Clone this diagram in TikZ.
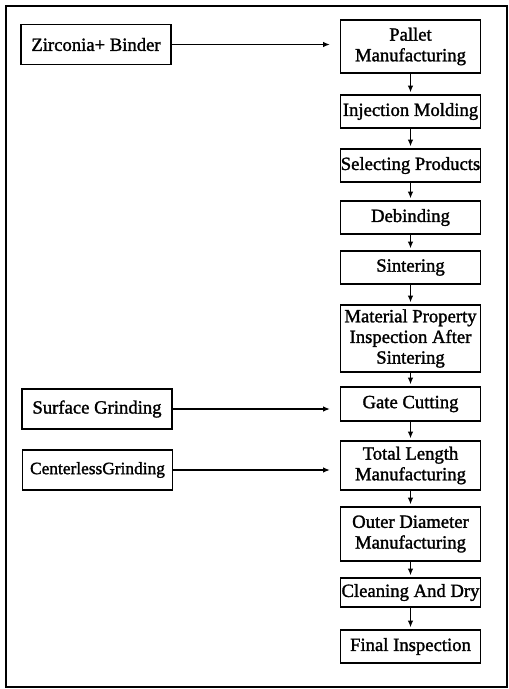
\documentclass[tikz,border=0pt]{standalone}
\usepackage{fontspec}
\setmainfont{Liberation Serif}
\newfontfamily\scanfont[FakeBold=1.5]{Liberation Serif}
\usepackage{tikz}
\usetikzlibrary{arrows.meta}

\begin{document}
\begin{tikzpicture}[x=0.75pt,y=0.75pt,yscale=-1,xscale=1,
  stagebox/.style={draw, line width=0.9pt, minimum width=105pt, inner xsep=0pt, inner ysep=1pt, align=center, font=\scanfont\fontsize{14}{15.5}\selectfont},
  feedbox/.style={stagebox, minimum width=112.5pt, minimum height=29.5pt},
  flowarrow/.style={-{Latex[length=5pt,width=4pt]}, line width=0.9pt}]
\useasboundingbox (0,0) rectangle (509,689);

%Outer Frame
\draw [line width=0.8pt] (6,6) rectangle (507,687);

% Text Node
\node (pm) [stagebox, minimum height=39.75pt] at (410.5,46.5) {Pallet\\Manufacturing};
% Text Node
\node (im) [stagebox, minimum height=24.75pt] at (410.5,111.5) {Injection Molding};
% Text Node
\node (sp) [stagebox, minimum height=24.75pt] at (410.5,165.5) {Selecting Products};
% Text Node
\node (db) [stagebox, minimum height=24.75pt] at (410.5,217.5) {Debinding};
% Text Node
\node (st) [stagebox, minimum height=24.75pt] at (410.5,267.5) {Sintering};
% Text Node
\node (mp) [stagebox, minimum height=50.25pt] at (410.5,338.5) {Material Property\\Inspection After\\Sintering};
% Text Node
\node (gc) [stagebox, minimum height=25.5pt] at (410.5,404) {Gate Cutting};
% Text Node
\node (tl) [stagebox, minimum height=36.75pt] at (410.5,465.5) {Total Length\\Manufacturing};
% Text Node
\node (od) [stagebox, minimum height=40.5pt] at (410.5,534) {Outer Diameter\\Manufacturing};
% Text Node
\node (cd) [stagebox, minimum height=21.75pt] at (410.5,592.5) {Cleaning And Dry};
% Text Node
\node (fi) [stagebox, minimum height=24.75pt] at (410.5,646.5) {Final Inspection};

% Text Node
\node (zb) [feedbox] at (96,44.5) {Zirconia+ Binder};
% Text Node
\node (sg) [feedbox, minimum height=30pt] at (97,409) {Surface Grinding};
% Text Node
\node (cg) [feedbox, minimum height=30pt, font=\scanfont\fontsize{13}{15}\selectfont] at (97.5,470) {CenterlessGrinding};

%Straight Lines
\foreach \a/\b in {pm/im, im/sp, sp/db, db/st, st/mp, mp/gc, gc/tl, tl/od, od/cd, cd/fi}
  \draw [flowarrow, shorten >=1.5pt] (\a) -- (\b);

%Straight Lines
\draw [flowarrow, shorten >=7.5pt] (zb.east) -- (zb.east -| pm.west);
\draw [flowarrow, shorten >=7.5pt] (sg.east) -- (sg.east -| gc.west);
\draw [flowarrow, shorten >=7.5pt] (cg.east) -- (cg.east -| tl.west);

\end{tikzpicture}
\end{document}
